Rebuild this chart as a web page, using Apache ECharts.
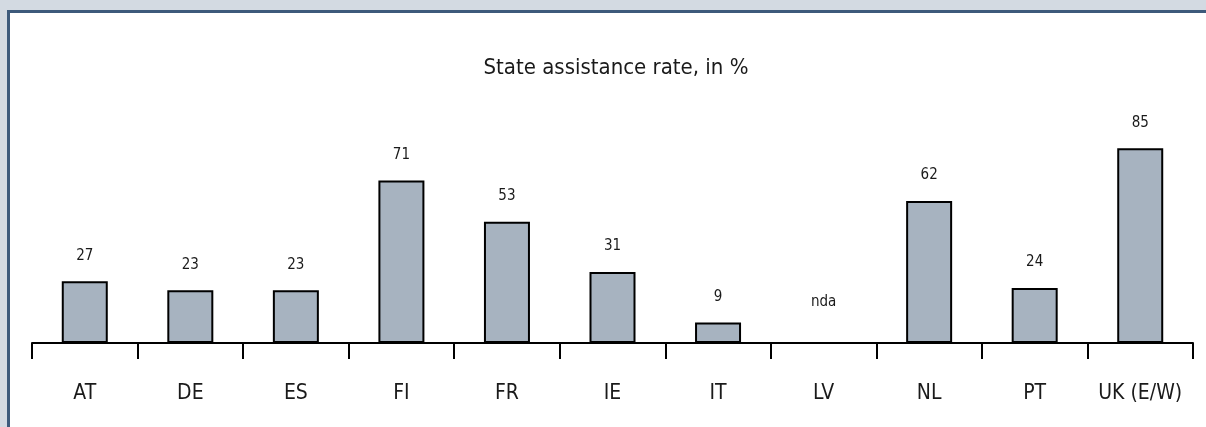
<!DOCTYPE html>
<html>
<head>
<meta charset="utf-8">
<script src="https://cdn.jsdelivr.net/npm/echarts@6/dist/echarts.min.js"></script>
<style>
  html, body { margin: 0; padding: 0; width: 1206px; height: 427px; overflow: hidden; background: #d3dae2; }
  #frame { position: absolute; left: 7px; top: 10px; width: 1199px; height: 417px; background: #ffffff;
           border-top: 3px solid #3d5a7b; border-left: 3px solid #3d5a7b; box-sizing: border-box; }
  #chart { position: absolute; left: 0; top: 0; width: 1206px; height: 427px; }
</style>
</head>
<body>
<div id="frame"></div>
<div id="chart"></div>
<script>
const titleText = 'State assistance rate, in %';
const categories = ['AT', 'DE', 'ES', 'FI', 'FR', 'IE', 'IT', 'LV', 'NL', 'PT', 'UK (E/W)'];
const values = [27, 23, 23, 71, 53, 31, 9, null, 62, 24, 85];
const missingLabel = 'nda';

const FONT = '"Liberation Sans Narrow", "DejaVu Sans Condensed", sans-serif';

const seriesData = values.map(function (v) {
  if (v === null) {
    return { value: 0, label: { formatter: missingLabel, distance: 33 }, itemStyle: { borderWidth: 0, color: 'transparent' } };
  }
  return { value: v };
});

const chart = echarts.init(document.getElementById('chart'), null, { renderer: 'canvas' });
chart.setOption({
  animation: false,
  backgroundColor: 'transparent',
  title: {
    text: titleText,
    left: 611,
    top: 52,
    textAlign: 'center',
    textStyle: { fontFamily: FONT, fontSize: 22, fontWeight: 'normal', color: '#1a1a1a' }
  },
  grid: { left: 32, right: 13, top: 114, bottom: 84, containLabel: false },
  xAxis: {
    type: 'category',
    data: categories,
    boundaryGap: true,
    axisLine: { show: true, lineStyle: { color: '#000', width: 2 } },
    axisTick: { show: true, length: 16, lineStyle: { color: '#000', width: 2 }, alignWithLabel: false },
    axisLabel: { margin: 40, fontFamily: FONT, fontSize: 21, color: '#1a1a1a', interval: 0 },
    splitLine: { show: false }
  },
  yAxis: {
    type: 'value',
    min: 0,
    max: 100,
    show: false,
    splitLine: { show: false }
  },
  series: [{
    type: 'bar',
    data: seriesData,
    barWidth: 46,
    itemStyle: { color: '#a7b3c0', borderColor: '#000', borderWidth: 2 },
    label: {
      show: true,
      position: 'top',
      distance: 18,
      fontFamily: FONT,
      fontSize: 15,
      color: '#1a1a1a'
    }
  }]
});
</script>
</body>
</html>
